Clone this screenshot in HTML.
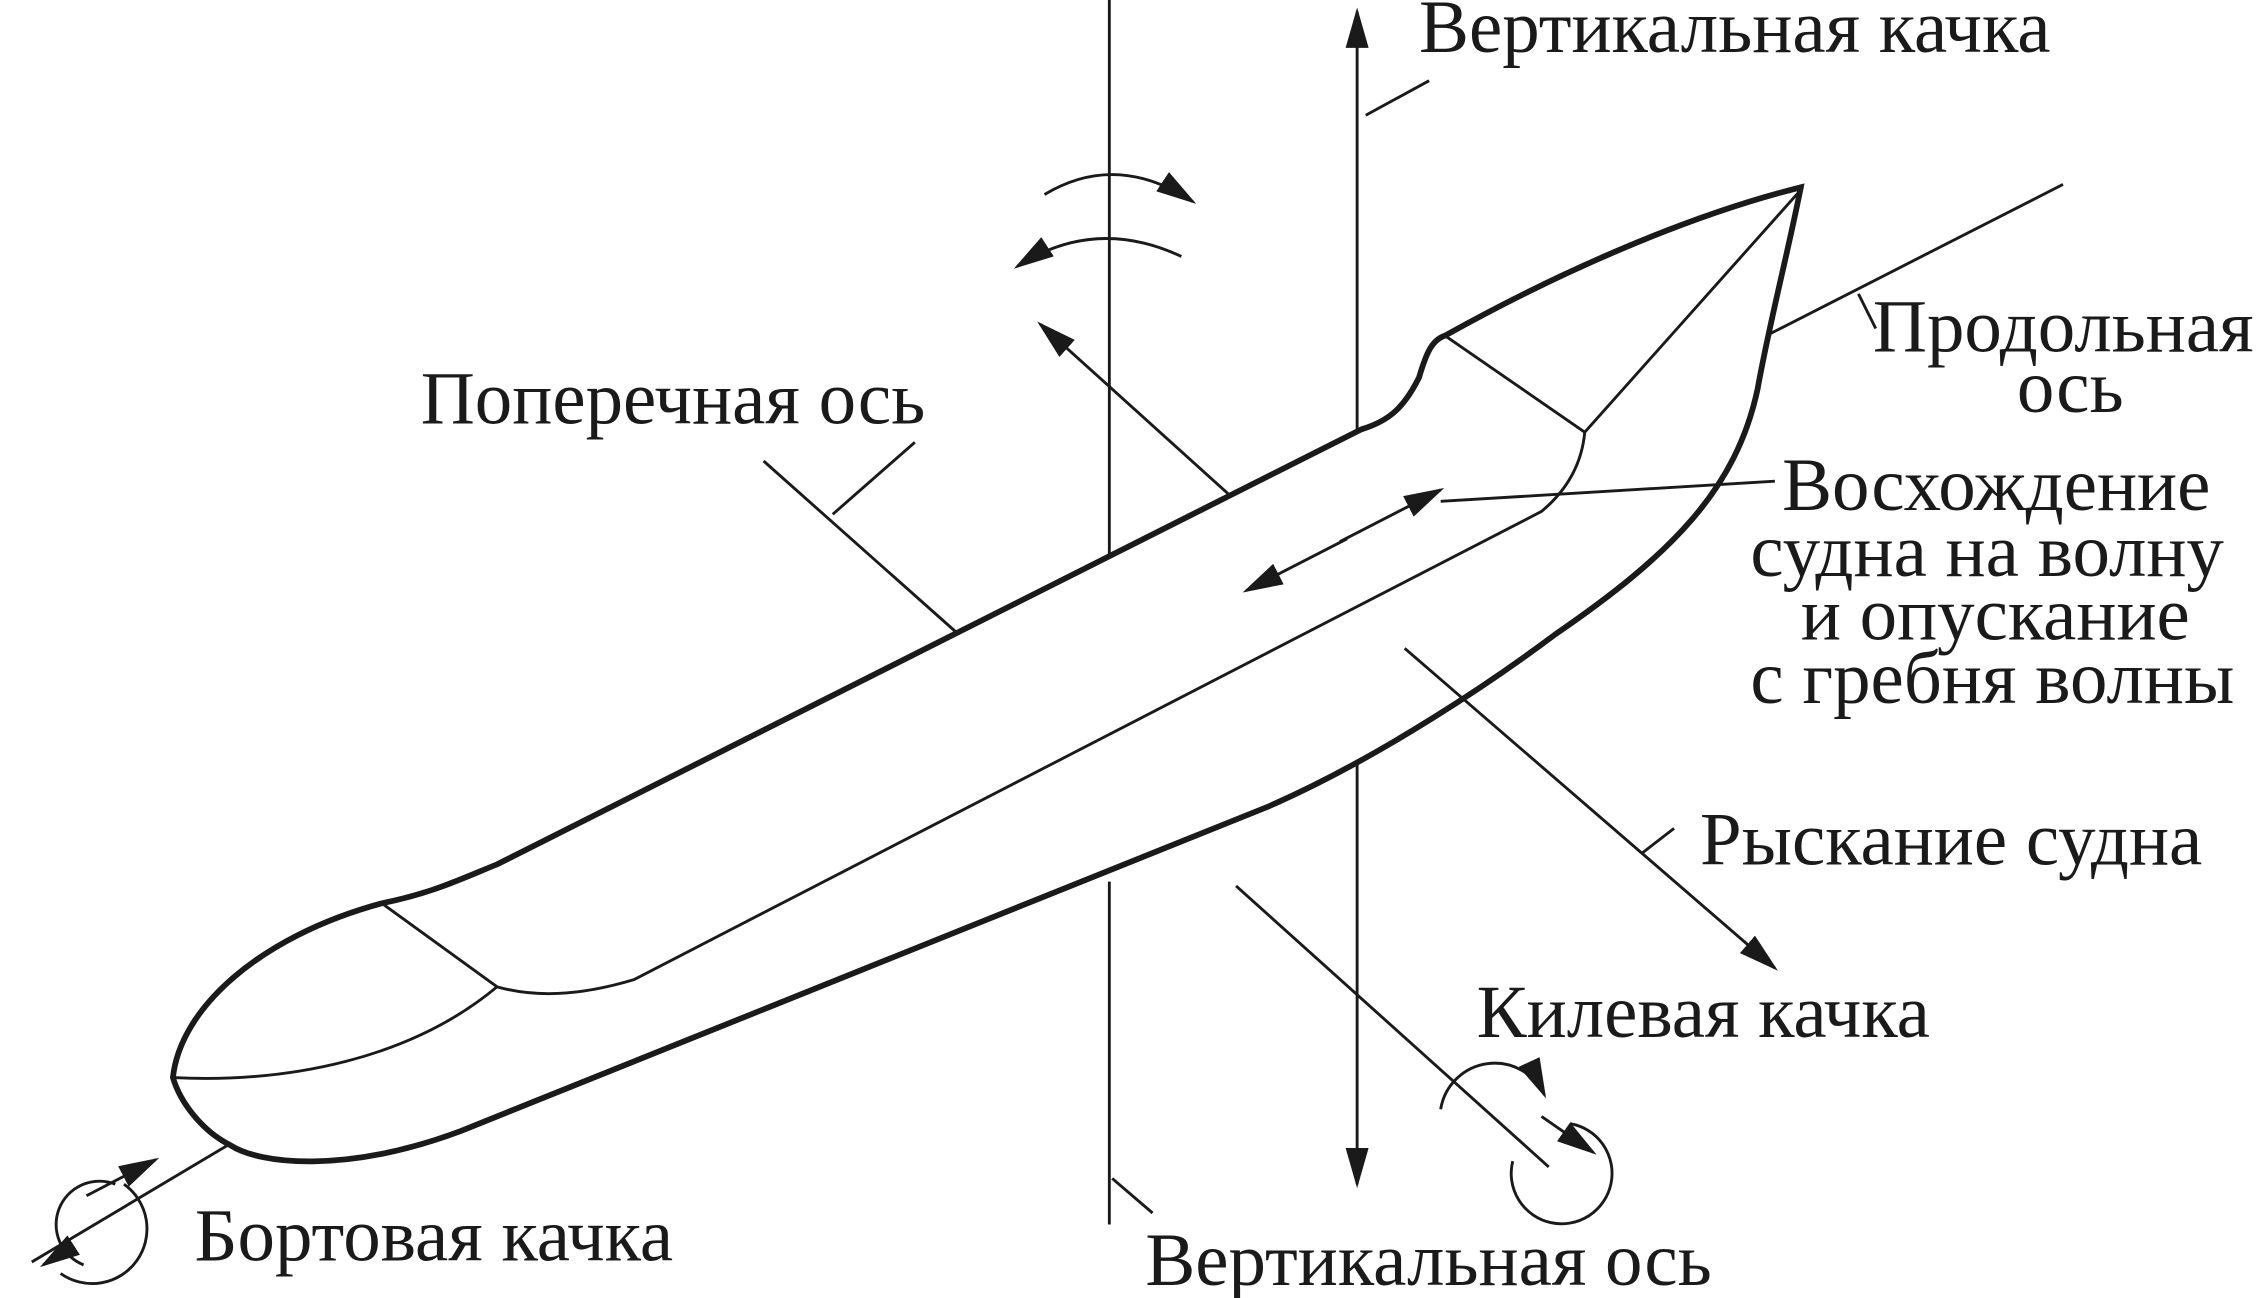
<!DOCTYPE html>
<html><head><meta charset="utf-8"><style>
html,body{margin:0;padding:0;background:#fff;}
svg{display:block;}
text{font-family:"Liberation Serif",serif;font-size:52px;fill:#1a1a1a;}
</style></head><body>
<svg width="2259" height="1298" viewBox="0 0 1568 901" xmlns="http://www.w3.org/2000/svg">
<defs>
<marker id="b" viewBox="0 0 10 10" refX="9" refY="5" markerWidth="28" markerHeight="16" markerUnits="userSpaceOnUse" orient="auto" preserveAspectRatio="none">
<path d="M0,0 L10,5 L0,10 Z" fill="#1a1a1a"/></marker>
</defs>
<g stroke="#1a1a1a" fill="none" stroke-width="2">
<line x1="770" y1="0" x2="770" y2="396"/>
<line x1="770" y1="612" x2="770" y2="850"/>
<line x1="772" y1="818" x2="800" y2="842"/>
<line x1="942" y1="298" x2="942" y2="8" marker-end="url(#b)"/>
<line x1="942" y1="530" x2="942" y2="822" marker-end="url(#b)"/>
<line x1="948" y1="80" x2="992" y2="56"/>
<line x1="1228" y1="232" x2="1432" y2="128"/>
<line x1="163" y1="792" x2="22" y2="876"/>
<line x1="1290" y1="204" x2="1302" y2="228"/>
<line x1="530" y1="320" x2="665" y2="440"/>
<line x1="578" y1="357" x2="635" y2="307"/>
<line x1="855" y1="345" x2="722" y2="225" marker-end="url(#b)"/>
<path d="M725,135 Q775,105 828,140" marker-end="url(#b)"/>
<path d="M820,178 Q760,150 706,185" marker-end="url(#b)"/>
<line x1="858" y1="615" x2="1075" y2="810"/>
<path d="M1000,770 A38,38 0 0 1 1072,760" marker-end="url(#b)"/>
<path d="M1090,780 A35,35 0 1 1 1050,806"/>
<path d="M1070,775 L1106,800" marker-end="url(#b)"/>
<path d="M58,878 A30,30 0 1 1 80,822" />
<path d="M60,830 L108,805" marker-end="url(#b)"/>
<path d="M86,822 A30,30 0 0 1 42,884"/>
<path d="M50,865 L30,878" marker-end="url(#b)"/>
</g>
<path d="M120,748 C125,700 180,650 265,627 C300,620 320,610 345,600 L945,298 C965,292 975,282 985,262 C990,245 994,236 1003,233 C1080,190 1170,150 1250,130 C1240,180 1228,225 1220,270 C1205,340 1160,385 1080,440 C1040,470 960,525 880,560 L320,785 C240,815 180,808 160,795 C140,785 125,765 120,748 Z" fill="#fff" stroke="#1a1a1a" stroke-width="4"/>
<g stroke="#1a1a1a" fill="none" stroke-width="2">
<path d="M1003,233 L1100,300 L1248,134"/>
<path d="M1100,300 C1098,322 1088,340 1070,355 L440,680 C400,692 370,692 345,685 L265,627"/>
<path d="M120,748 C200,752 285,735 345,685"/>
<line x1="930" y1="376" x2="1000" y2="340" marker-end="url(#b)"/>
<line x1="935" y1="374" x2="865" y2="410" marker-end="url(#b)"/>
<line x1="1000" y1="348" x2="1232" y2="334"/>
<line x1="975" y1="450" x2="1232" y2="672" marker-end="url(#b)"/>
<line x1="1140" y1="592" x2="1162" y2="575"/>
</g>
<text x="985" y="36">Вертикальная качка</text>
<text x="1300" y="244">Продольная</text>
<text x="1400" y="286">ось</text>
<text x="292" y="294">Поперечная ось</text>
<text x="1237" y="354">Восхождение</text>
<text x="1215" y="400">судна на волну</text>
<text x="1250" y="444">и опускание</text>
<text x="1215" y="488">с гребня волны</text>
<text x="1180" y="600">Рыскание судна</text>
<text x="1025" y="720">Килевая качка</text>
<text x="135" y="875">Бортовая качка</text>
<text x="795" y="892">Вертикальная ось</text>
</svg>
</body></html>
